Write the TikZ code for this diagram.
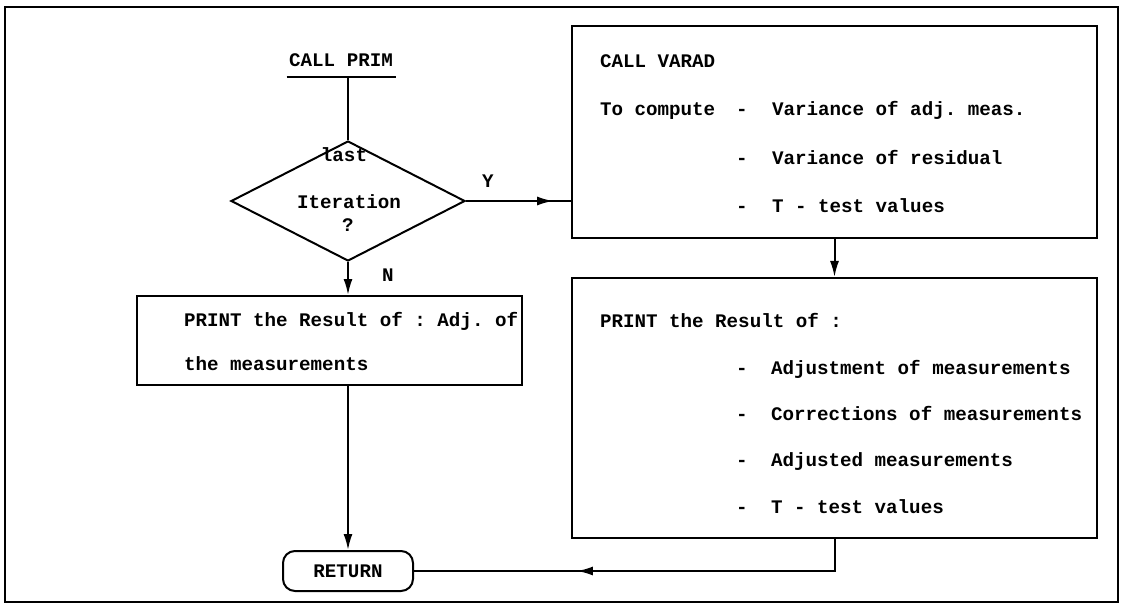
\documentclass[tikz,border=0pt]{standalone}
\usepackage{fontspec}
\setmainfont{Liberation Mono}
\usetikzlibrary{shapes.geometric, arrows.meta, decorations.markings}

\begin{document}
\frenchspacing
\begin{tikzpicture}[x=1pt, y=-1pt, line width=2pt, font=\fontsize{19.2}{23}\selectfont\bfseries,
    midarrow/.style={postaction={decorate}, decoration={markings, mark=at position #1 with {\arrow{Latex[length=16pt,width=9pt]}}}}]
       \tikzstyle{arrow} = [-{Latex[length=16pt,width=9pt]}]
       \tikzstyle{process} = [rectangle, draw=black, inner sep=0pt]
       \tikzstyle{decision} = [diamond, draw=black, inner sep=0pt, minimum width=234pt, minimum height=120pt]
       \tikzstyle{terminal} = [rectangle, rounded corners=12pt, draw=black, minimum width=130pt, minimum height=40pt]
       \tikzstyle{txt} = [anchor=base west, inner sep=0pt]
       \tikzstyle{mid} = [anchor=base, inner sep=0pt]
       \useasboundingbox (0,0) rectangle (1122,604);
       \draw (5,7) rectangle (1118,602);

       % left branch
       \node (call-prim) [mid, text depth=9pt, minimum width=107pt] at (341,67) {CALL PRIM};
       \draw (call-prim.south west) -- (call-prim.south east);
       \path[] node[decision] (last-iter) at (348,201) {};
       \node (t-last) [mid] at (344,162) {last};
       \node (t-iter) [mid] at (349,209) {Iteration};
       \node (t-quest) [mid] at (348,232) {?};
       \path[] node[process, minimum width=385pt, minimum height=89pt] (print-adj) at (329.5,340.5) {};
       \node (adj-1) [txt] at (183,326) {PRINT the Result of : Adj. of};
       \node (adj-2) [txt] at (183,370) {the measurements};
       \path[] node[terminal] (return) at (348,571) {RETURN};

       % right branch
       \path[] node[process, minimum width=525pt, minimum height=212pt] (call-varad) at (834.5,132) {};
       \node (varad-0) [txt] at (599,68) {CALL VARAD};
       \node (varad-1) [txt] at (599,116) {To compute};
       \foreach \y/\t [count=\i] in {116/Variance of adj. meas., 165/Variance of residual, 213/T - test values}
       {
         \node (varad-dash-\i) [txt] at (735,\y) {-};
         \node (varad-txt-\i) [txt] at (771,\y) {\t};
       }
       \path[] node[process, minimum width=525pt, minimum height=260pt] (print-res) at (834.5,408) {};
       \node (res-0) [txt] at (599,327) {PRINT the Result of :};
       \foreach \y/\t [count=\i] in {374/Adjustment of measurements, 420/Corrections of measurements, 466/Adjusted measurements, 513/T - test values}
       {
         \node (res-dash-\i) [txt] at (735,\y) {-};
         \node (res-txt-\i) [txt] at (770,\y) {\t};
       }

       % connectors
       \draw (call-prim.south -| last-iter.north) -- (last-iter.north);
       \draw [midarrow=0.83] (last-iter.east) -- (last-iter.east -| call-varad.west);
       \node (lab-y) [mid] at (488,188) {Y};
       \draw [arrow] (last-iter.south) -- (last-iter.south |- print-adj.north);
       \node (lab-n) [mid] at (388,281) {N};
       \draw [arrow] (last-iter.south |- print-adj.south) -- (return.north);
       \draw [arrow] (call-varad.south) -- (print-res.north);
       \draw [midarrow=0.64] (print-res.south) |- (return.east);
\end{tikzpicture}
\end{document}
